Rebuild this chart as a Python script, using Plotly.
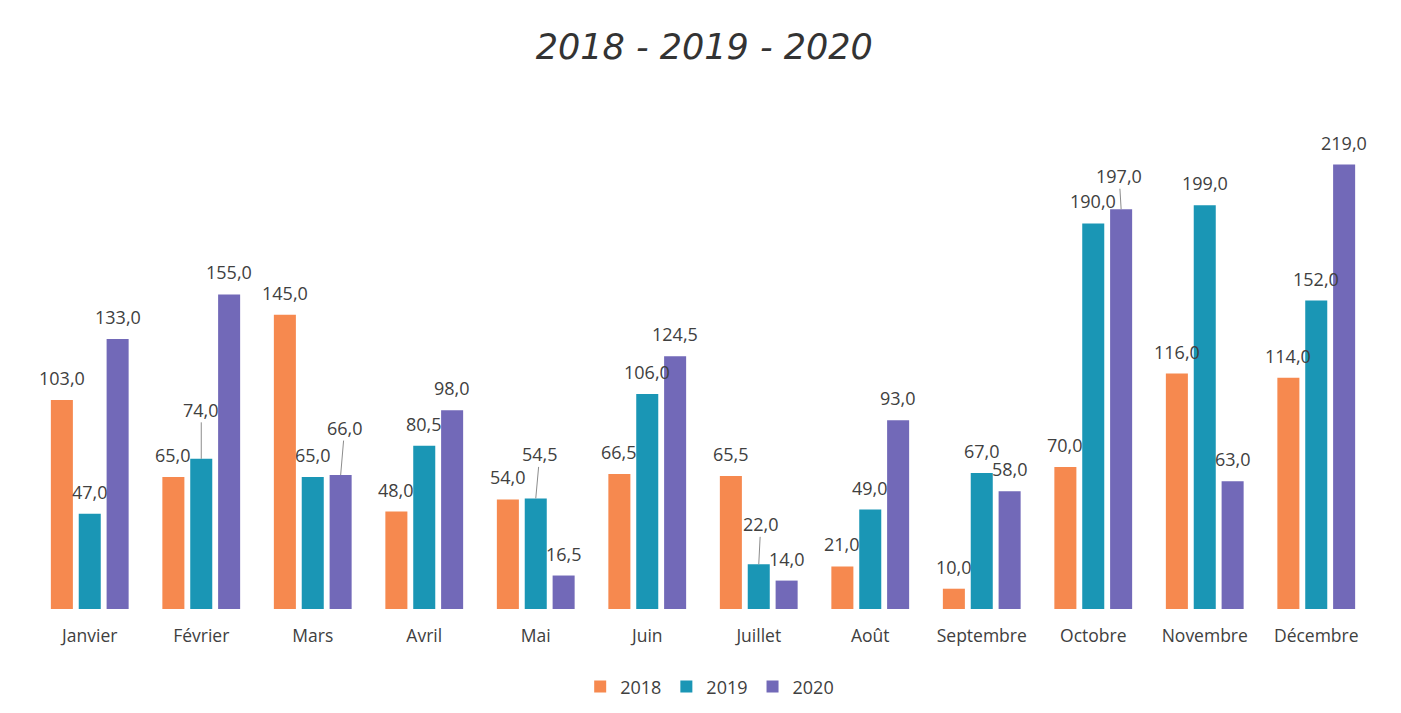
import plotly.graph_objects as go

months = ["Janvier", "Février", "Mars", "Avril", "Mai", "Juin", "Juillet",
          "Août", "Septembre", "Octobre", "Novembre", "Décembre"]
v2018 = [103.0, 65.0, 145.0, 48.0, 54.0, 66.5, 65.5, 21.0, 10.0, 70.0, 116.0, 114.0]
v2019 = [47.0, 74.0, 65.0, 80.5, 54.5, 106.0, 22.0, 49.0, 67.0, 190.0, 199.0, 152.0]
v2020 = [133.0, 155.0, 66.0, 98.0, 16.5, 124.5, 14.0, 93.0, 58.0, 197.0, 63.0, 219.0]

series = [("2018", v2018, "#F6894F"), ("2019", v2019, "#1A96B5"), ("2020", v2020, "#7269B8")]

# label placement: pixel offset of bar within group, and labels lifted with a leader line
group_shift = [-27.9, 0.0, 27.9]
leader = {(1, 1): (0, -49), (2, 2): (4, -47), (1, 4): (4, -44),
          (1, 6): (2, -40), (2, 9): (-2, -33)}

label_font = dict(family="Open Sans, sans-serif", size=18, color="#404040")

fig = go.Figure()
annotations = []
for si, (name, vals, col) in enumerate(series):
    fig.add_trace(go.Bar(
        x=months, y=vals, name=name, marker=dict(color=col, line=dict(width=0)),
        hoverinfo="x+y+name",
    ))
    for mi, (m, v) in enumerate(zip(months, vals)):
        txt = f"{v:.1f}".replace(".", ",")
        if (si, mi) in leader:
            dx, dy = leader[(si, mi)]
            annotations.append(dict(
                x=m, y=v, xref="x", yref="y", xshift=group_shift[si], text=txt,
                showarrow=True, arrowhead=0, arrowwidth=1, arrowcolor="#8c8c8c",
                ax=dx, ay=dy, standoff=0, startstandoff=0, font=label_font,
                borderpad=0))
        else:
            annotations.append(dict(
                x=m, y=v, xref="x", yref="y", xshift=group_shift[si], yshift=22,
                text=txt, showarrow=False, yanchor="middle", font=label_font,
                borderpad=0))

fig.update_layout(
    width=1401, height=713,
    paper_bgcolor="white", plot_bgcolor="white",
    barmode="group", bargap=0.25, bargroupgap=0.21,
    margin=dict(l=26, r=37, t=114, b=112),
    title=dict(text="2018 - 2019 - 2020", x=0.497, xanchor="center", y=0.945, yanchor="middle",
               font=dict(family="DejaVu Sans, sans-serif", size=35, color="#333333", style="italic")),
    xaxis=dict(showgrid=False, showline=False, ticks="", zeroline=False,
               ticklabelstandoff=14,
               tickfont=dict(family="Open Sans, sans-serif", size=17.5, color="#404040")),
    yaxis=dict(range=[0, 240], visible=False),
    legend=dict(orientation="h", x=0.505, xanchor="center", y=-0.16, yanchor="middle",
                font=dict(family="Open Sans, sans-serif", size=18, color="#404040"),
                itemwidth=30, traceorder="normal"),
    annotations=annotations,
    showlegend=True,
)

fig.write_html("out.html")
